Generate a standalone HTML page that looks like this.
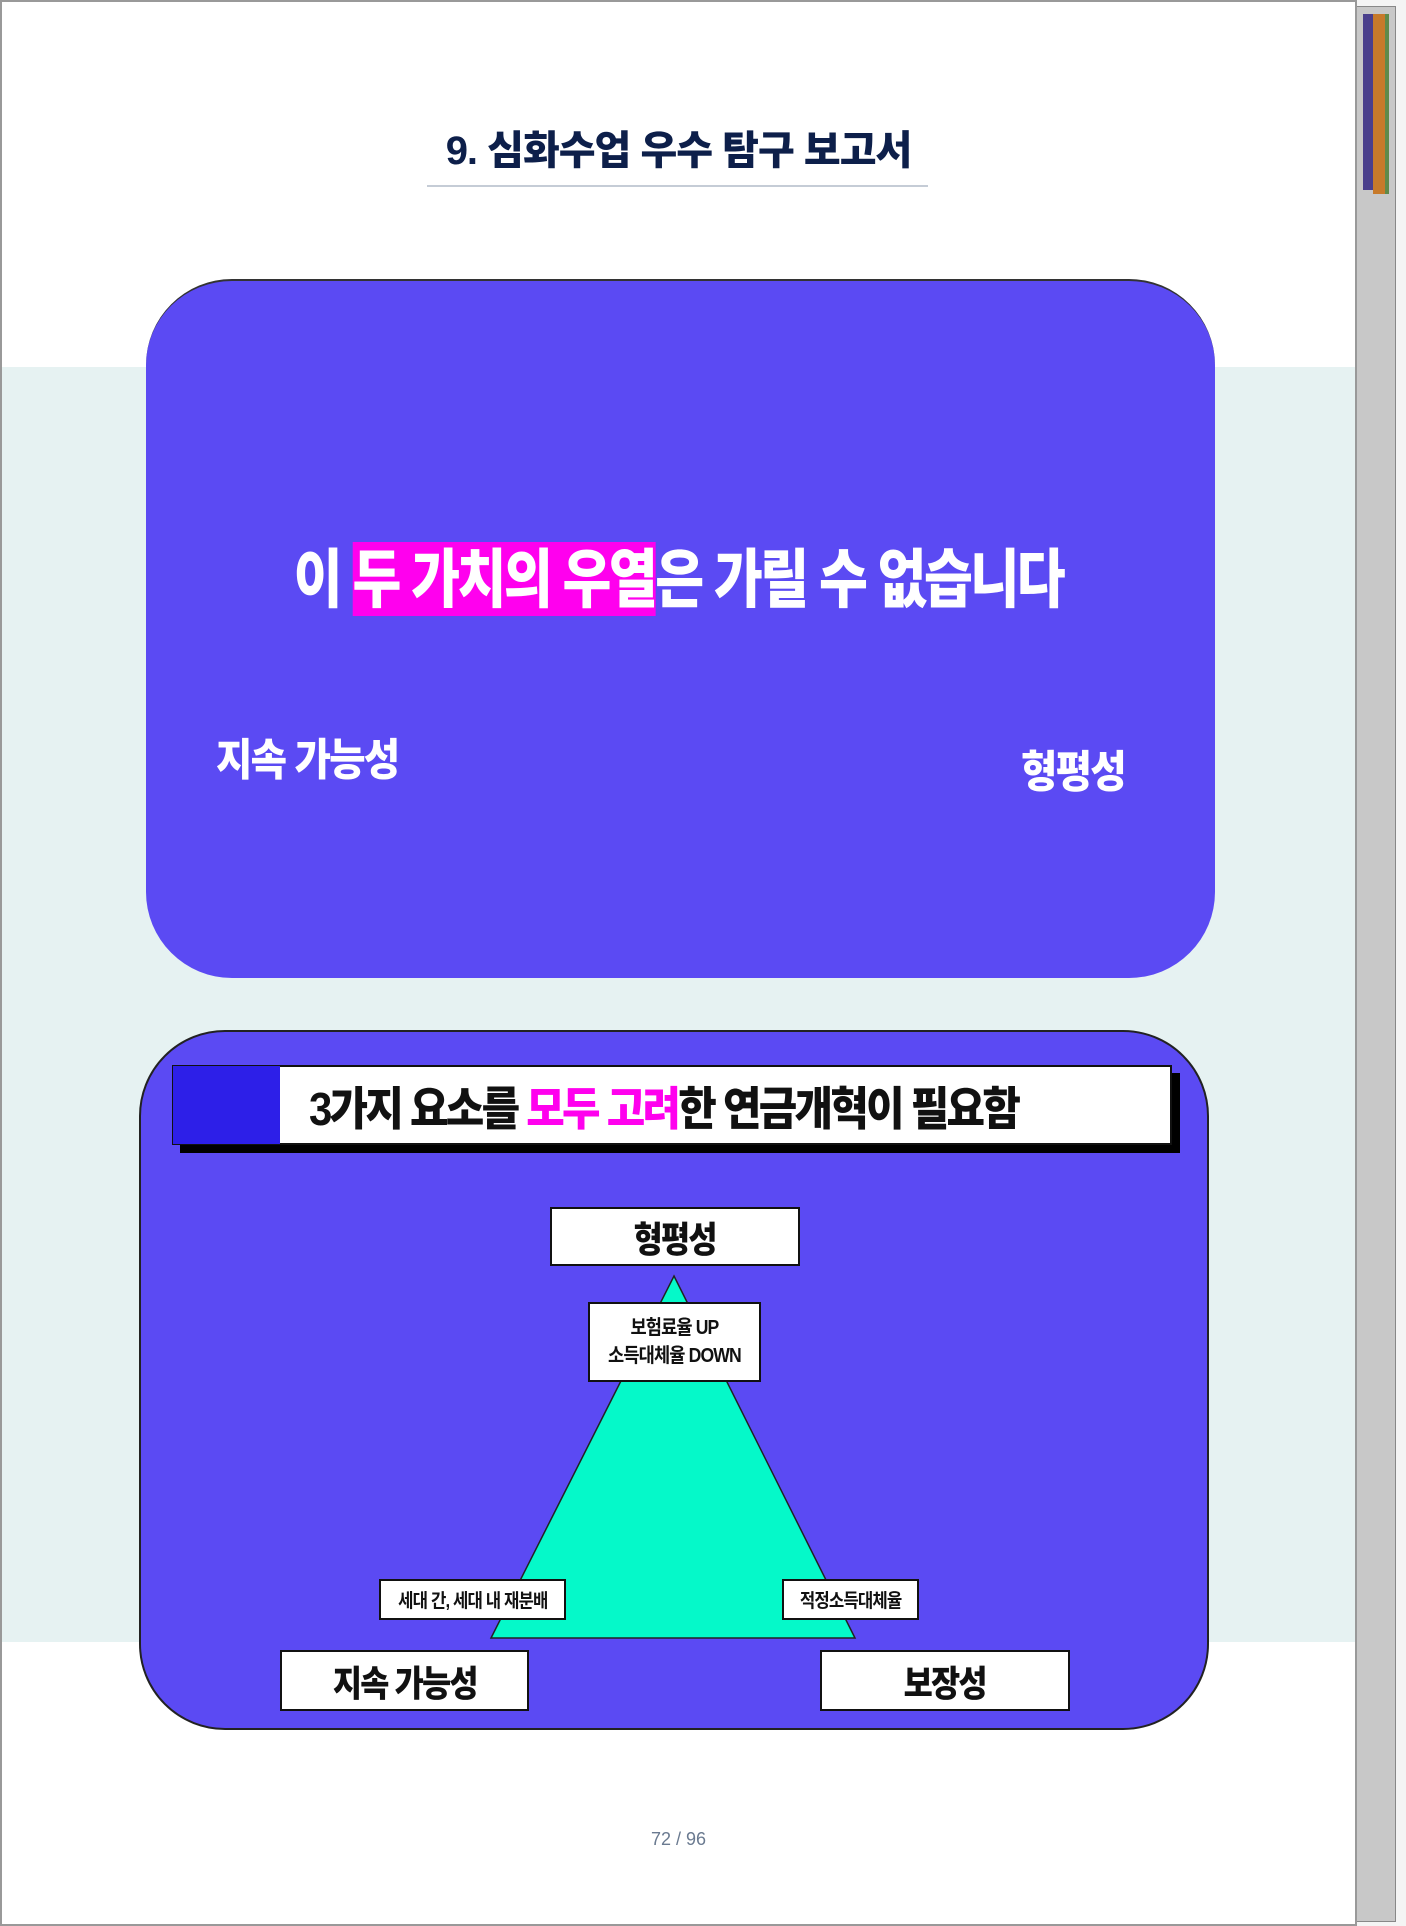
<!DOCTYPE html>
<html><head><meta charset="utf-8"><style>
*{margin:0;padding:0;box-sizing:border-box}
body{width:1406px;height:1926px;background:#f4f4f4;position:relative;overflow:hidden;font-family:"Liberation Sans","Noto Sans CJK KR",sans-serif}
.abs{position:absolute}
.t{white-space:nowrap;font-weight:900}
.box{position:absolute;background:#fff;border:2px solid #111;display:flex;align-items:center;justify-content:center;font-weight:900;color:#111;white-space:nowrap}
.sx{display:inline-block;transform:scaleX(0.88)}
</style></head><body>
<div class="abs" style="left:1356px;top:6px;width:40px;height:1916px;background:#c8c8c8;border:1px solid #888"></div>
<div class="abs" style="left:1363px;top:14px;width:10px;height:176px;background:#4a3f8c"></div>
<div class="abs" style="left:1373px;top:14px;width:12px;height:180px;background:#c77a2a"></div>
<div class="abs" style="left:1385px;top:14px;width:4px;height:180px;background:#5f8a4a"></div>
<div class="abs" style="left:0;top:0;width:1357px;height:1926px;background:#fff;border:2px solid #999"></div>
<div class="abs" style="left:2px;top:367px;width:1353px;height:1275px;background:#e6f2f2"></div>
<div class="abs t" style="left:0;width:1357px;top:118px;text-align:center;font-size:40px;color:#0d1f4a;letter-spacing:-1px">9. 심화수업 우수 탐구 보고서</div>
<div class="abs" style="left:427px;top:185px;width:501px;height:2px;background:#c5ccd6"></div>

<div class="abs" style="left:146px;top:279px;width:1069px;height:699px;background:#5b4af3;border-radius:86px;border-top:2px solid #333"></div>
<div class="abs t" style="left:0;width:1357px;top:529px;text-align:center;font-size:64px;color:#fff;letter-spacing:-3px"><span style="display:inline-block;transform:scaleX(0.83)">이 <span style="background:#ff00ee;padding:2px 0 0">두 가치의 우열</span>은 가릴 수 없습니다</span></div>
<div class="abs t" style="left:216px;top:724px;font-size:44px;color:#fff;letter-spacing:-2px;transform:scaleX(0.9);transform-origin:left">지속 가능성</div>
<div class="abs t" style="left:1021px;top:736px;font-size:44px;color:#fff;letter-spacing:-2px;transform:scaleX(0.9);transform-origin:left">형평성</div>

<div class="abs" style="left:139px;top:1030px;width:1070px;height:700px;background:#5b4af3;border-radius:86px;border:2px solid #222"></div>
<div class="abs" style="left:180px;top:1073px;width:1000px;height:80px;background:#000"></div>
<div class="abs" style="left:172px;top:1065px;width:1000px;height:80px;background:#fff;border:2px solid #111"></div>
<div class="abs" style="left:173px;top:1066px;width:107px;height:78px;background:#2d1fe8"></div>
<div class="abs t" style="left:309px;top:1073px;font-size:46px;color:#111;letter-spacing:-3px;transform:scaleX(0.91);transform-origin:left">3가지 요소를 <span style="color:#ff00ee">모두 고려</span>한 연금개혁이 필요함</div>

<svg class="abs" style="left:0;top:0" width="1406" height="1926"><polygon points="674,1276 855,1638 491,1638" fill="#05f9c9" stroke="#222" stroke-width="1.5"/></svg>
<div class="box" style="left:550px;top:1207px;width:250px;height:59px;font-size:36px;letter-spacing:-2px"><span class="sx">형평성</span></div>
<div class="box" style="left:588px;top:1302px;width:173px;height:80px;font-size:20px;font-weight:700;line-height:28px;letter-spacing:-1px"><div class="sx" style="text-align:center"><div>보험료율 UP</div><div>소득대체율 DOWN</div></div></div>
<div class="box" style="left:379px;top:1579px;width:187px;height:41px;font-size:19px;font-weight:700;letter-spacing:-1px"><span class="sx">세대 간, 세대 내 재분배</span></div>
<div class="box" style="left:782px;top:1579px;width:137px;height:41px;font-size:19px;font-weight:700;letter-spacing:-1px"><span class="sx">적정소득대체율</span></div>
<div class="box" style="left:280px;top:1650px;width:249px;height:61px;font-size:36px;letter-spacing:-2px"><span class="sx">지속 가능성</span></div>
<div class="box" style="left:820px;top:1650px;width:250px;height:61px;font-size:36px;letter-spacing:-2px"><span class="sx">보장성</span></div>
<div class="abs" style="left:0;width:1357px;top:1829px;text-align:center;font-size:18px;color:#6a7a90">72 / 96</div>
</body></html>
